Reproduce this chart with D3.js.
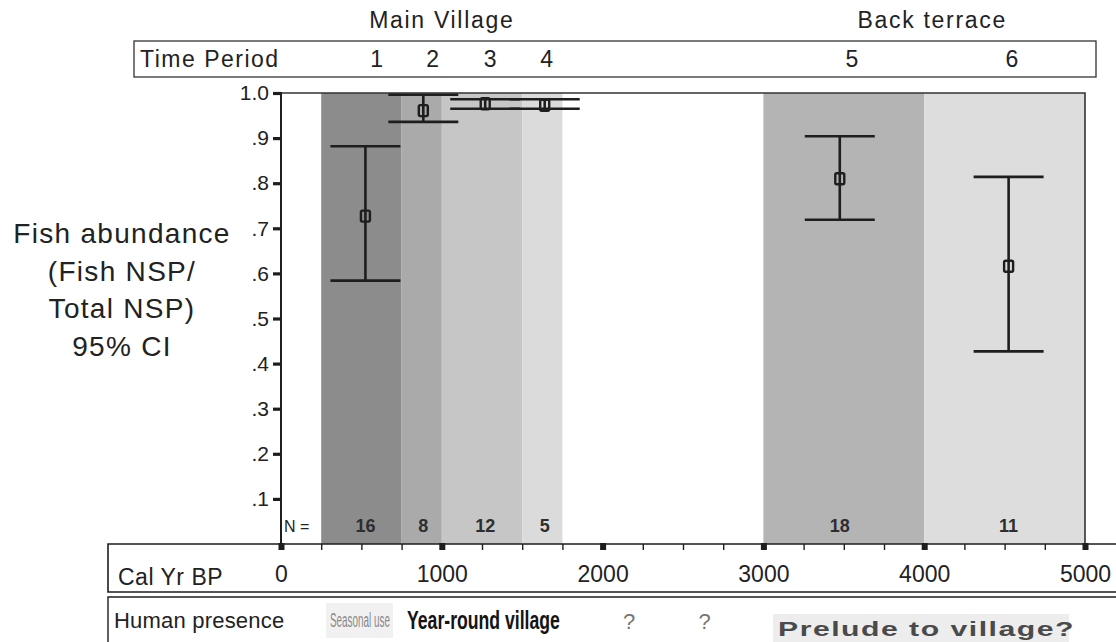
<!DOCTYPE html>
<html>
<head>
<meta charset="utf-8">
<script src="https://cdn.jsdelivr.net/npm/d3@7"></script>
<style>
  html, body { margin: 0; padding: 0; background: #fff; }
  svg { display: block; }
  text { font-family: "Liberation Sans", Arial, sans-serif; }
</style>
</head>
<body>
<svg id="chart" width="1116" height="642"></svg>
<script>
// Occupation periods: time span (cal yr BP), shading and sample sizes
const periods      = ["1", "2", "3", "4", "5", "6"];
const periodStart  = [250, 750, 1000, 1500, 3000, 4000];
const periodEnd    = [750, 1000, 1500, 1750, 4000, 5000];
const periodShade  = ["#8c8c8c", "#aaaaaa", "#c6c6c6", "#dbdbdb", "#b4b4b4", "#dddddd"];
const periodLabelYr = [595, 943, 1300, 1652, 3550, 4545];
const sampleN      = [16, 8, 12, 5, 18, 11];

// Fish NSP / Total NSP: mean and 95% confidence interval per period
const pointYr   = [525, 885, 1270, 1640, 3475, 4525];
const meanValue = [0.727, 0.961, 0.976, 0.973, 0.810, 0.616];
const ciUpper   = [0.882, 0.996, 0.986, 0.986, 0.904, 0.814];
const ciLower   = [0.584, 0.936, 0.965, 0.965, 0.719, 0.427];

// Axis ticks
const yTicks      = [0.1, 0.2, 0.3, 0.4, 0.5, 0.6, 0.7, 0.8, 0.9, 1.0];
const xMajorTicks = [0, 1000, 2000, 3000, 4000, 5000];
const xMinorTicks = d3.range(0, 5001, 250).filter(v => v % 1000 !== 0);

// Site areas
const siteAreas = [
  { name: "Main Village", yr: 1000 },
  { name: "Back terrace", yr: 4050 }
];

// Unknown presence between the two occupations
const unknownYr = [2165, 2635];

const svg = d3.select("#chart");

const x = d3.scaleLinear().domain([0, 5000]).range([281, 1085]);
const y = d3.scaleLinear().domain([0, 1]).range([544, 93]);

const ink = "#1e1e1e";

// Squeeze a text horizontally so that it spans the given width
function fitWidth(sel, width) {
  sel.each(function () {
    const t = d3.select(this);
    const w = this.getComputedTextLength();
    const x0 = +t.attr("x");
    const y0 = +t.attr("y");
    t.attr("x", 0).attr("y", 0)
     .attr("transform", `translate(${x0},${y0}) scale(${width / w},1)`);
  });
  return sel;
}

// ---- Header: site areas and time period row ----
svg.selectAll("text.area").data(siteAreas).join("text")
  .attr("class", "area")
  .attr("x", d => x(d.yr))
  .attr("y", 28)
  .attr("text-anchor", "middle")
  .attr("font-size", 23)
  .attr("letter-spacing", 1.7)
  .attr("fill", "#222")
  .text(d => d.name);

svg.append("rect")
  .attr("x", 134).attr("y", 41).attr("width", 1096 - 134).attr("height", 36)
  .attr("fill", "none").attr("stroke", "#333").attr("stroke-width", 1.3);

svg.append("text")
  .attr("x", 140).attr("y", 67)
  .attr("font-size", 23).attr("letter-spacing", 1.5).attr("fill", "#222")
  .text("Time Period");

svg.selectAll("text.pnum").data(periods).join("text")
  .attr("class", "pnum")
  .attr("x", (d, i) => x(periodLabelYr[i]))
  .attr("y", 67)
  .attr("text-anchor", "middle")
  .attr("font-size", 23)
  .attr("fill", "#222")
  .text(d => d);

// ---- Shaded period bands ----
svg.selectAll("rect.band").data(periods).join("rect")
  .attr("class", "band")
  .attr("x", (d, i) => x(periodStart[i]))
  .attr("width", (d, i) => x(periodEnd[i]) - x(periodStart[i]))
  .attr("y", y(1))
  .attr("height", y(0) - y(1))
  .attr("fill", (d, i) => periodShade[i]);

// Plot frame (top and right)
svg.append("path")
  .attr("d", `M${x(0)},${y(1)}H${x(5000)}V${y(0)}`)
  .attr("fill", "none").attr("stroke", "#333").attr("stroke-width", 1.6);

// ---- Y axis ----
const yAxis = d3.axisLeft(y)
  .tickValues(yTicks)
  .tickSize(8)
  .tickPadding(4)
  .tickFormat(d => d === 1 ? "1.0" : d3.format(".1f")(d).replace(/^0/, ""));

const gy = svg.append("g").attr("transform", `translate(${x(0)},0)`).call(yAxis);
gy.select(".domain").remove();
gy.selectAll(".tick line").attr("stroke", ink).attr("stroke-width", 3.2);
gy.selectAll(".tick text")
  .attr("font-size", 21)
  .attr("font-family", "Liberation Sans, Arial, sans-serif")
  .attr("fill", "#222");
svg.append("line")
  .attr("x1", x(0)).attr("x2", x(0)).attr("y1", y(1) - 1).attr("y2", y(0))
  .attr("stroke", ink).attr("stroke-width", 2);

// Y axis title
const yTitle = ["Fish abundance", "(Fish NSP/", "Total NSP)", "95% CI"];
svg.append("text")
  .attr("font-size", 28)
  .attr("letter-spacing", 1.3)
  .attr("fill", "#222")
  .attr("text-anchor", "middle")
  .selectAll("tspan").data(yTitle).join("tspan")
  .attr("x", 122)
  .attr("y", (d, i) => 243 + i * 37.5)
  .text(d => d);

// ---- X axis (Cal Yr BP) ----
// Row frames
svg.append("path")
  .attr("d", `M1116,544H108V592H1116`)
  .attr("fill", "none").attr("stroke", ink).attr("stroke-width", 1.6);
svg.append("path")
  .attr("d", `M1116,597H108V642`)
  .attr("fill", "none").attr("stroke", ink).attr("stroke-width", 1.4);

const xMinor = d3.axisBottom(x).tickValues(xMinorTicks).tickSize(6).tickFormat("");
const gxm = svg.append("g").attr("transform", `translate(0,${y(0)})`).call(xMinor);
gxm.select(".domain").remove();
gxm.selectAll(".tick line").attr("stroke", ink).attr("stroke-width", 1.4);

const xAxis = d3.axisBottom(x).tickValues(xMajorTicks).tickSize(0).tickPadding(22)
  .tickFormat(d3.format("d"));
const gx = svg.append("g").attr("transform", `translate(0,${y(0)})`).call(xAxis);
gx.select(".domain").remove();
gx.selectAll(".tick text")
  .attr("font-size", 23)
  .attr("font-family", "Liberation Sans, Arial, sans-serif")
  .attr("fill", "#222");
gx.selectAll(".tick").append("rect")
  .attr("x", -3).attr("y", -1).attr("width", 6).attr("height", 7)
  .attr("fill", ink);

svg.append("text")
  .attr("x", 118).attr("y", 585)
  .attr("font-size", 23).attr("letter-spacing", 0.5).attr("fill", "#222")
  .text("Cal Yr BP");

// ---- Sample sizes ----
svg.append("text")
  .attr("x", 284).attr("y", 532)
  .attr("font-size", 16).attr("fill", "#222")
  .text("N =");
svg.selectAll("text.n").data(sampleN).join("text")
  .attr("class", "n")
  .attr("x", (d, i) => x(pointYr[i]))
  .attr("y", 532)
  .attr("text-anchor", "middle")
  .attr("font-size", 18).attr("font-weight", "bold")
  .attr("fill", "#2e2e2e")
  .text(d => d);

// ---- Error bars with mean markers ----
const capHalf = 35;
const eb = svg.selectAll("g.eb").data(periods).join("g").attr("class", "eb")
  .attr("stroke", ink).attr("stroke-width", 2.6).attr("fill", "none");
eb.append("line")
  .attr("x1", (d, i) => x(pointYr[i])).attr("x2", (d, i) => x(pointYr[i]))
  .attr("y1", (d, i) => y(ciUpper[i])).attr("y2", (d, i) => y(ciLower[i]));
eb.append("line")
  .attr("x1", (d, i) => x(pointYr[i]) - capHalf).attr("x2", (d, i) => x(pointYr[i]) + capHalf)
  .attr("y1", (d, i) => y(ciUpper[i])).attr("y2", (d, i) => y(ciUpper[i]));
eb.append("line")
  .attr("x1", (d, i) => x(pointYr[i]) - capHalf).attr("x2", (d, i) => x(pointYr[i]) + capHalf)
  .attr("y1", (d, i) => y(ciLower[i])).attr("y2", (d, i) => y(ciLower[i]));
eb.append("rect")
  .attr("x", (d, i) => x(pointYr[i]) - 4.5).attr("y", (d, i) => y(meanValue[i]) - 5.5)
  .attr("width", 9).attr("height", 11).attr("rx", 1.5)
  .attr("stroke-width", 2.4);

// ---- Human presence row ----
svg.append("text")
  .attr("x", 114).attr("y", 628)
  .attr("font-size", 22).attr("letter-spacing", 0.2).attr("fill", "#222")
  .text("Human presence");

svg.append("rect")
  .attr("x", 326).attr("y", 603).attr("width", 67).attr("height", 35)
  .attr("fill", "#f1f1f1");
svg.append("text")
  .attr("x", 330).attr("y", 627)
  .attr("font-size", 20).attr("fill", "#8a8a8a")
  .text("Seasonal use")
  .call(fitWidth, 60);

svg.append("text")
  .attr("x", 407).attr("y", 629)
  .attr("font-size", 25).attr("font-weight", "bold").attr("fill", "#141414")
  .text("Year-round village")
  .call(fitWidth, 153);

svg.selectAll("text.q").data(unknownYr).join("text")
  .attr("class", "q")
  .attr("x", d => x(d)).attr("y", 629)
  .attr("text-anchor", "middle")
  .attr("font-family", "Liberation Serif, Times New Roman, serif")
  .attr("font-size", 22).attr("fill", "#777")
  .text("?");

svg.append("rect")
  .attr("x", 773).attr("y", 614).attr("width", 296).attr("height", 28)
  .attr("fill", "#ededed");
svg.append("text")
  .attr("x", 778).attr("y", 636)
  .attr("font-family", "DejaVu Sans, Verdana, sans-serif")
  .attr("font-weight", "bold")
  .attr("font-size", 20).attr("letter-spacing", 1)
  .attr("fill", "#4a4a4a")
  .text("Prelude to village?")
  .call(fitWidth, 297);
</script>
</body>
</html>
